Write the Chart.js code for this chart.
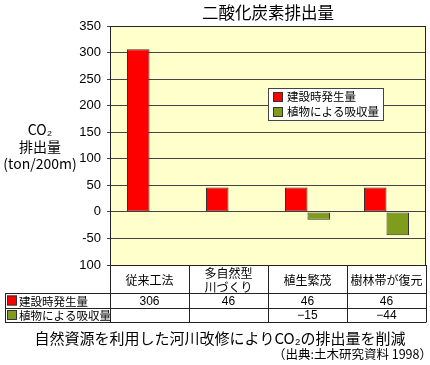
<!DOCTYPE html>
<html><head><meta charset="utf-8">
<script src="https://cdn.jsdelivr.net/npm/chart.js@4.4.1/dist/chart.umd.min.js"></script>
<style>html,body{margin:0;padding:0;background:#fff}#wrap{width:430px;height:365px}</style>
</head><body><div id="wrap"><canvas id="c" width="430" height="365"></canvas></div>
<script>
const titleText = '二酸化炭素排出量';
const categories = [['従来工法'], ['多自然型', '川づくり'], ['植生繁茂'], ['樹林帯が復元']];
const seriesNames = ['建設時発生量', '植物による吸収量'];
const emissions = [306, 46, 46, 46];
const absorption = [null, null, -15, -44];
const yTickLabels = ['100', '-50', '0', '50', '100', '150', '200', '250', '300', '350'];
const yAxisTitle = ['CO₂', '排出量', '(ton/200m)'];
const caption = '自然資源を利用した河川改修によりCO₂の排出量を削減';
const source = '（出典:土木研究資料 1998）';
const colors = ['#ff0000', '#809c1c'];

const FONT = '"Liberation Sans", "Noto Sans CJK JP", sans-serif';
const JFONT = '"Noto Sans CJK JP", "Liberation Sans", sans-serif';

const decor = {
  id: 'decor',
  beforeDraw(chart) {
    const {ctx, chartArea: a} = chart;
    ctx.save();
    ctx.fillStyle = '#ffffcc';
    ctx.fillRect(a.left, a.top, a.right - a.left, a.bottom - a.top);
    ctx.restore();
  },
  afterDraw(chart) {
    const {ctx, chartArea: a} = chart;
    ctx.save();
    ctx.strokeStyle = '#222';
    ctx.lineWidth = 1;
    ctx.strokeRect(a.left + 0.5, a.top + 0.5, a.right - a.left - 1, a.bottom - a.top);
    // title
    ctx.fillStyle = '#000';
    ctx.textAlign = 'center';
    ctx.textBaseline = 'middle';
    ctx.font = '16.5px ' + JFONT;
    ctx.fillText(titleText, (a.left + a.right) / 2, 13);
    // y-axis title
    ctx.font = '14px ' + JFONT;
    yAxisTitle.forEach((t, i) => ctx.fillText(t, 40, 130 + i * 17));
    // legend
    const lx = 268, ly = 88, lw = 115, lh = 32;
    ctx.fillStyle = '#fff';
    ctx.fillRect(lx, ly, lw, lh);
    ctx.strokeStyle = '#444';
    ctx.strokeRect(lx + 0.5, ly + 0.5, lw, lh);
    ctx.textAlign = 'left';
    seriesNames.forEach((n, i) => {
      const y = ly + 9 + i * 15;
      ctx.fillStyle = colors[i];
      ctx.fillRect(lx + 5, y - 5, 10, 10);
      ctx.strokeStyle = '#333';
      ctx.strokeRect(lx + 5.5, y - 4.5, 9, 9);
      ctx.fillStyle = '#000';
      ctx.font = '11.5px ' + JFONT;
      ctx.fillText(n, lx + 19, y);
    });
    // data table
    const n = categories.length;
    const cw = (a.right - a.left) / n;
    const top = a.bottom, r1 = 293, r2 = 308, bot = 322, hl = 5;
    ctx.strokeStyle = '#222';
    ctx.beginPath();
    ctx.moveTo(a.left, r1 + 0.5); ctx.lineTo(a.right, r1 + 0.5);
    ctx.moveTo(hl, r1 + 0.5); ctx.lineTo(a.left, r1 + 0.5);
    ctx.moveTo(hl, r2 + 0.5); ctx.lineTo(a.right, r2 + 0.5);
    ctx.moveTo(hl, bot + 0.5); ctx.lineTo(a.right, bot + 0.5);
    for (let i = 0; i <= n; i++) {
      const x = Math.round(a.left + i * cw) + 0.5;
      ctx.moveTo(x, top); ctx.lineTo(x, bot + 0.5);
    }
    ctx.moveTo(hl + 0.5, r1); ctx.lineTo(hl + 0.5, bot + 0.5);
    ctx.stroke();
    ctx.textAlign = 'center';
    ctx.fillStyle = '#000';
    ctx.font = '12px ' + JFONT;
    categories.forEach((lines, i) => {
      const cx = a.left + (i + 0.5) * cw;
      const cy = (top + r1) / 2 + 1;
      lines.forEach((t, j) => ctx.fillText(t, cx, cy + (j - (lines.length - 1) / 2) * 14));
    });
    [emissions, absorption].forEach((arr, k) => {
      const cy = k === 0 ? (r1 + r2) / 2 + 1 : (r2 + bot) / 2 + 1;
      ctx.font = '12px ' + FONT;
      ctx.textAlign = 'center';
      arr.forEach((v, i) => {
        if (v === null) return;
        ctx.fillText(String(v).replace('-', '−'), a.left + (i + 0.5) * cw, cy);
      });
      ctx.textAlign = 'left';
      ctx.fillStyle = colors[k];
      ctx.fillRect(hl + 2, cy - 6, 10, 10);
      ctx.strokeStyle = '#333';
      ctx.strokeRect(hl + 2.5, cy - 5.5, 9, 9);
      ctx.fillStyle = '#000';
      ctx.font = '11.5px ' + JFONT;
      ctx.fillText(seriesNames[k], hl + 14, cy);
    });
    // caption and source
    ctx.font = '15px ' + JFONT;
    ctx.textAlign = 'center';
    ctx.fillText(caption, 220, 338);
    ctx.font = '12.5px ' + JFONT;
    ctx.textAlign = 'right';
    ctx.fillText(source, 432, 354);
    ctx.restore();
  }
};

new Chart(document.getElementById('c'), {
  type: 'bar',
  data: {
    labels: categories.map(c => c.join('')),
    datasets: [
      {label: seriesNames[0], data: emissions, backgroundColor: colors[0], borderColor: '#333', borderWidth: 1, borderSkipped: false},
      {label: seriesNames[1], data: absorption, backgroundColor: colors[1], borderColor: '#333', borderWidth: 1, borderSkipped: false}
    ]
  },
  options: {
    responsive: false,
    animation: false,
    devicePixelRatio: 1,
    layout: {padding: {left: 0, right: 4, top: 26, bottom: 100}},
    datasets: {bar: {categoryPercentage: 0.57, barPercentage: 1}},
    plugins: {legend: {display: false}, title: {display: false}, tooltip: {enabled: false}},
    scales: {
      x: {display: false, grid: {display: false}},
      y: {
        min: -100, max: 350,
        afterFit: s => { s.width = 110; },
        border: {display: false},
        grid: {color: '#444', lineWidth: 1, tickLength: 3, drawTicks: true},
        ticks: {stepSize: 50, padding: 6, color: '#000', font: {family: FONT, size: 13},
          callback: (v, i) => yTickLabels[i]}
      }
    }
  },
  plugins: [decor]
});
</script></body></html>
